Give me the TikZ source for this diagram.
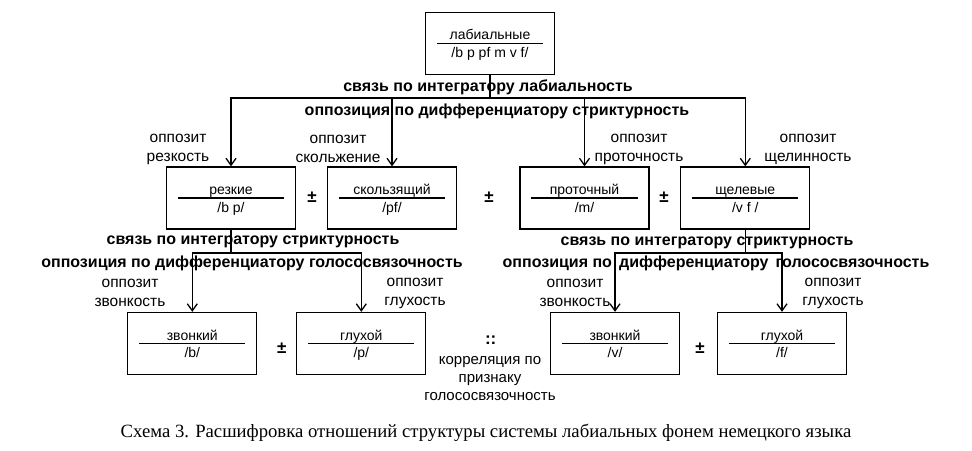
\documentclass[tikz,border=0pt]{standalone}
\usepackage{fontspec}
\setmainfont{Liberation Sans}
\newfontfamily\capfont{Liberation Serif}
\usetikzlibrary{arrows.meta}

\tikzset{
  fonbox/.style={draw, line width=1.3pt, minimum width=129pt, minimum height=62pt, inner sep=0pt},
  fontxt/.style={font=\fontsize{14}{16}\selectfont, anchor=base, inner sep=0pt},
  opplabel/.style={font=\fontsize{15.5}{19}\selectfont, align=center, inner sep=0pt},
  boldlabel/.style={font=\bfseries\fontsize{16}{18}\selectfont, inner sep=0pt},
  conn/.style={line width=1.3pt},
  arr/.style={conn, -{Straight Barb[length=7pt,width=10pt]}},
  pm/.style={font=\bfseries\fontsize{17}{18}\selectfont, inner sep=0pt},
}

% box with a name, a rule and the phonemes
\newcommand\phonbox[4]{%
  \node[fonbox] (#1) at (#2) {};
  \draw[conn] ([xshift=12pt]#1.west) -- ([xshift=-12pt]#1.east);
  \node[fontxt] (#1-t) at ([yshift=3.5pt]#1.center) {#3};
  \node[fontxt] (#1-p) at ([yshift=-14pt]#1.center) {#4};
}

\begin{document}
\begin{tikzpicture}[x=1pt, y=-1pt]
\useasboundingbox (0,0) rectangle (972,450);

% boxes
\phonbox{lab}{490,43.3}{лабиальные}{/b p pf m v f/}
\phonbox{rez}{231,198}{резкие}{/b p/}
\phonbox{skol}{392,198}{скользящий}{/pf/}
\phonbox{prot}{584.5,198}{проточный}{/m/}
\phonbox{shel}{745.3,198}{щелевые}{/v f /}
\phonbox{zvL}{192.3,343.5}{звонкий}{/b/}
\phonbox{gluL}{361.3,343.5}{глухой}{/p/}
\phonbox{zvR}{615,343.5}{звонкий}{/v/}
\phonbox{gluR}{782,343.5}{глухой}{/f/}

% bold lines
\node[boldlabel] (int1) at (488,87) {связь по интегратору лабиальность};
\node[boldlabel] (dif1) at (497,111.7) {оппозиция по дифференциатору стриктурность};
\node[boldlabel] (int2) at (253,242) {связь по интегратору стриктурность};
\node[boldlabel] (dif2) at (252,263) {оппозиция по дифференциатору голососвязочность};
\node[boldlabel] (int3) at (707,243) {связь по интегратору стриктурность};
\node[boldlabel] (dif3) at (716,263) {оппозиция по\,\ дифференциатору\,\ голососвязочность};

% opposits
\node[opplabel] (o1) at (178,149) {оппозит\\резкость};
\node[opplabel] (o2) at (338,149) {оппозит\\скольжение};
\node[opplabel] (o3) at (639,149) {оппозит\\проточность};
\node[opplabel] (o4) at (808,149) {оппозит\\щелинность};
\node[opplabel] (o5) at (130,293) {оппозит\\звонкость};
\node[opplabel] (o6) at (415,293) {оппозит\\глухость};
\node[opplabel] (o7) at (575,293) {оппозит\\звонкость};
\node[opplabel] (o8) at (833,293) {оппозит\\глухость};

% plus-minus
\node[pm] (pm1) at (312,197) {±};
\node[pm] (pm2) at (489,197) {±};
\node[pm] (pm3) at (664,197) {±};
\node[pm] (pm4) at (281.7,348) {±};
\node[pm] (pm5) at (700,348) {±};
\node[pm] (corr) at (490.7,340) {::};
\node[opplabel, font=\fontsize{15}{18}\selectfont] (corrtxt) at (490,379) {корреляция по\\признаку\\голососвязочность};

% connectors
\coordinate (bus1) at (0,98);
\coordinate (bus2) at (0,253);
\draw[conn] (lab.south) -- (lab.south |- bus1);
\draw[arr] (lab.south |- bus1) -| (rez.north);
\draw[arr] (lab.south |- bus1) -| (skol.north);
\draw[arr] (lab.south |- bus1) -| (prot.north);
\draw[arr] (lab.south |- bus1) -| (shel.north);
\draw[conn] (rez.south) -- (rez.south |- bus2);
\draw[arr] (rez.south |- bus2) -| (zvL.north);
\draw[arr] (rez.south |- bus2) -| (gluL.north);
\draw[conn] (shel.south) -- (shel.south |- bus2);
\draw[arr] (shel.south |- bus2) -| (zvR.north);
\draw[arr] (shel.south |- bus2) -| (gluR.north);

% caption
\node[font=\capfont\fontsize{18.7}{22}\selectfont, inner sep=0pt] (cap) at (486,433)
  {Схема 3. Расшифровка отношений структуры системы лабиальных фонем немецкого языка};
\end{tikzpicture}
\end{document}
